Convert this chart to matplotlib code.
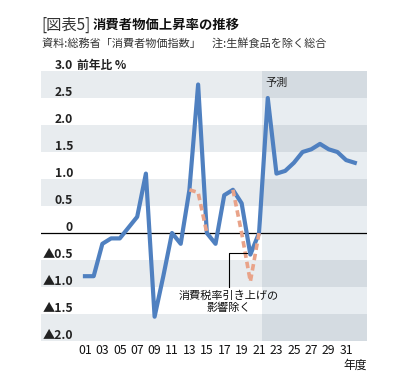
import matplotlib.pyplot as plt
import matplotlib.transforms as mtransforms

plt.rcParams['font.family'] = ['Noto Sans CJK JP', 'DejaVu Sans']

# 年度 (2001-2032) と前年比
years = list(range(1, 33))
cpi = [-0.8, -0.8, -0.2, -0.1, -0.1, 0.1, 0.3, 1.1, -1.55, -0.8,
       0.0, -0.2, 0.8, 2.75, 0.0, -0.2, 0.7, 0.8, 0.55, -0.4,
       0.0, 2.5, 1.1, 1.15, 1.3, 1.5, 1.55, 1.65, 1.55, 1.5,
       1.35, 1.3]
# 消費税率引き上げの影響除く
ex_tax_years1 = [13, 14, 15]
ex_tax_cpi1 = [0.8, 0.75, 0.0]
ex_tax_years2 = [18, 19, 20, 21]
ex_tax_cpi2 = [0.8, 0.0, -0.9, 0.0]

yticks = [3.0, 2.5, 2.0, 1.5, 1.0, 0.5, 0, -0.5, -1.0, -1.5, -2.0]
ylabels = ['3.0', '2.5', '2.0', '1.5', '1.0', '0.5', '0',
           '▲0.5', '▲1.0', '▲1.5', '▲2.0']
xticks = list(range(1, 32, 2))
xlabels = ['%02d' % y for y in xticks]

forecast_start = 21.35
xmin, xmax = -4.05, 33.4

fig = plt.figure(figsize=(4.09, 3.86), dpi=100)
ax = fig.add_axes([41 / 409, 1 - 341 / 386, 326 / 409, 270 / 386])
ax.set_xlim(xmin, xmax)
ax.set_ylim(-2.0, 3.0)

# 背景の帯
dark_bands = [(2.5, 3.0), (1.5, 2.0), (0.5, 1.0), (-1.0, -0.5), (-2.0, -1.5)]
ax.fill_between([xmin, forecast_start], -2.0, 3.0, color='white', lw=0)
ax.fill_between([forecast_start, xmax], -2.0, 3.0, color='#e8edf1', lw=0)
for y0, y1 in dark_bands:
    ax.fill_between([xmin, forecast_start], y0, y1, color='#e8ecef', lw=0)
    ax.fill_between([forecast_start, xmax], y0, y1, color='#d4dbe1', lw=0)

ax.axhline(0, color='black', lw=0.9, zorder=2)

ax.plot(years, cpi, color='#4f80c0', lw=3, zorder=3)
ax.plot(ex_tax_years1, ex_tax_cpi1, color='#e9a389', lw=2.6,
        linestyle=(0, (1.8, 1.1)), zorder=4)
ax.plot(ex_tax_years2, ex_tax_cpi2, color='#e9a389', lw=2.6,
        linestyle=(0, (1.8, 1.1)), zorder=4)

# 目盛り
for s in ax.spines.values():
    s.set_visible(False)
ax.set_yticks([])
ax.set_xticks(xticks)
ax.set_xticklabels(xlabels, fontsize=8.8, color='#111111')
ax.tick_params(axis='x', length=0, pad=2)

trans = mtransforms.blended_transform_factory(ax.transAxes, ax.transData)
for v, lab in zip(yticks, ylabels):
    ax.text(0.098, v - 0.01, lab, transform=trans, ha='right', va='bottom',
            fontsize=8.8, fontweight='bold', color='#222222')
ax.text(0.110, 2.99, '前年比 %', transform=trans, ha='left', va='bottom',
        fontsize=8.5, fontweight='bold', color='#222222')

ax.text(0.688, 2.88, '予測', transform=trans, ha='left', va='top',
        fontsize=8, color='#222222')
ax.text(1.0, -0.065, '年度', transform=ax.transAxes, ha='right', va='top',
        fontsize=8.5, color='#111111')

# 注釈
ax.plot([17.5, 17.5, 19.6], [-1.0, -0.37, -0.37], color='black', lw=0.8, zorder=5)
ax.text(17.5, -1.06, '消費税率引き上げの\n影響除く', ha='center', va='top',
        fontsize=8, color='#111111', linespacing=1.25, zorder=5)

# タイトル
fig.text(41 / 409, 1 - 25 / 386, '[図表5]', fontsize=11, color='#333333',
         va='center', ha='left')
fig.text(93 / 409, 1 - 25 / 386, '消費者物価上昇率の推移', fontsize=9.6,
         fontweight='bold', color='#111111', va='center', ha='left')
fig.text(42 / 409, 1 - 43 / 386, '資料:総務省「消費者物価指数」　注:生鮮食品を除く総合',
         fontsize=8, color='#333333', va='center', ha='left')

fig.savefig('out.png', dpi=100)
